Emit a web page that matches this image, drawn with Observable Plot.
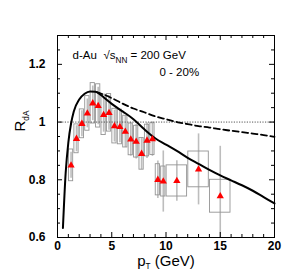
<!DOCTYPE html>
<html><head><meta charset="utf-8">
<script src="https://cdn.jsdelivr.net/npm/d3@7"></script>
<script src="https://cdn.jsdelivr.net/npm/@observablehq/plot@0.6"></script>
<style>html,body{margin:0;padding:0;background:#fff}#chart{width:300px;height:271px}</style>
</head><body><div id="chart"></div>
<script>
// ---- data ----
const pt      = [1.25,1.75,2.25,2.75,3.25,3.75,4.25,4.75,5.25,5.75,6.25,6.75,7.25,7.75,8.25,8.75,9.25,9.75,11,13,15];
const rdA     = [0.85,0.942,0.994,1.03,1.065,1.056,1.025,1.032,0.986,0.983,0.967,0.94,0.932,0.89,0.936,0.941,0.80,0.794,0.796,0.836,0.743];
const binLo   = [1.0,1.5,2.0,2.5,3.0,3.5,4.0,4.5,5.0,5.5,6.0,6.5,7.0,7.5,8.0,8.5,9.0,9.5,10,12,14];
const binHi   = [1.5,2.0,2.5,3.0,3.5,4.0,4.5,5.0,5.5,6.0,6.5,7.0,7.5,8.0,8.5,9.0,9.5,10,12,14,16];
const sysErr  = [0.055,0.05,0.05,0.06,0.07,0.075,0.07,0.065,0.06,0.06,0.055,0.055,0.055,0.055,0.055,0.055,0.054,0.052,0.054,0.062,0.057];
const statErr = [0.045,0.045,0.045,0.05,0.06,0.065,0.06,0.06,0.055,0.055,0.055,0.058,0.06,0.055,0.062,0.06,0.065,0.106,0.07,0.123,0.173];

const solidX = [0.5,0.75,1.0,1.25,1.5,2.0,2.5,3.0,3.5,4.0,4.5,5.0,6.0,7.0,8.0,9.0,10,11,12,13,14,15,16,17,18,19,20];
const solidY = [0.633,0.822,0.93,0.995,1.037,1.078,1.098,1.106,1.105,1.094,1.078,1.063,1.037,1.01,0.975,0.944,0.922,0.9,0.876,0.855,0.834,0.815,0.798,0.781,0.762,0.74,0.718];
const dashX  = [3.6,4,5,6,7,8,9,10,11,12,13,14,15,16,17,18,19,20];
const dashY  = [1.104,1.099,1.083,1.064,1.047,1.034,1.02,1.01,1.0,0.993,0.986,0.981,0.975,0.97,0.965,0.96,0.955,0.949];

const xMajor = [0,5,10,15,20];
const xMinor = [1,2,3,4,6,7,8,9,11,12,13,14,16,17,18,19];
const yMajor = [0.6,0.8,1.0,1.2];
const yMinor = [0.65,0.7,0.75,0.85,0.9,0.95,1.05,1.1,1.15,1.25];
const yTickLabels = ["0.6","0.8","1","1.2"];
const xTickLabels = ["0","5","10","15","20"];

const system = "d-Au";
const energy = "√s_{NN} = 200 GeV";
const centrality = "0 - 20%";
const xTitle = "p_{T} (GeV)";
const yTitle = "R_{dA}";

// ---- layout ----
const W = 300, H = 271, mL = 57, mR = 26, mT = 35, mB = 34;
const fw = W - mL - mR, fh = H - mT - mB;
const font = "'Liberation Sans', Arial, Helvetica, sans-serif";

const pts = pt.map((x, i) => ({x, y: rdA[i], lo: binLo[i], hi: binHi[i], sys: sysErr[i], stat: statErr[i]}));
const solid = solidX.map((x, i) => ({x, y: solidY[i]}));
const dashed = dashX.map((x, i) => ({x, y: dashY[i]}));

const chart = Plot.plot({
  width: W, height: H,
  marginLeft: mL, marginRight: mR, marginTop: mT, marginBottom: mB,
  style: {fontFamily: font, background: "#fff", color: "#000"},
  x: {domain: [0, 20], axis: null},
  y: {domain: [0.6, 1.3], axis: null},
  marks: [
    Plot.ruleX(pts, {x: "x", y1: d => d.y - d.stat, y2: d => d.y + d.stat, stroke: "#bdbdbd", strokeWidth: 1.6, clip: true}),
    Plot.rect(pts, {x1: "lo", x2: "hi", y1: d => d.y - d.sys, y2: d => d.y + d.sys, fill: "none", stroke: "#949494", strokeWidth: 0.9, insetLeft: 0.6, insetRight: 0.6}),
    Plot.ruleY([1], {stroke: "#555", strokeDasharray: "1.2,1.4", strokeWidth: 1}),
    Plot.line(solid, {x: "x", y: "y", stroke: "#000", strokeWidth: 2, curve: "monotone-x"}),
    Plot.line(dashed, {x: "x", y: "y", stroke: "#000", strokeWidth: 1.8, strokeDasharray: "6,3.5", curve: "monotone-x"}),
    Plot.dot(pts, {x: "x", y: "y", symbol: "triangle", fill: "#ff0000", stroke: "none", r: 2.7}),
    Plot.frame({stroke: "#000", strokeWidth: 1}),
    // inward ticks on all four sides
    Plot.tickX(xMajor, {x: d => d, insetTop: fh - 5, stroke: "#000"}),
    Plot.tickX(xMinor, {x: d => d, insetTop: fh - 3, stroke: "#000"}),
    Plot.tickX(xMajor, {x: d => d, insetBottom: fh - 5, stroke: "#000"}),
    Plot.tickX(xMinor, {x: d => d, insetBottom: fh - 3, stroke: "#000"}),
    Plot.tickY(yMajor, {y: d => d, insetRight: fw - 5, stroke: "#000"}),
    Plot.tickY(yMinor, {y: d => d, insetRight: fw - 3, stroke: "#000"}),
    Plot.tickY(yMajor, {y: d => d, insetLeft: fw - 5, stroke: "#000"}),
    Plot.tickY(yMinor, {y: d => d, insetLeft: fw - 3, stroke: "#000"}),
    // tick labels
    Plot.text(xMajor, {x: d => d, frameAnchor: "bottom", dy: 9, text: (d, i) => xTickLabels[i], fontWeight: "bold", fontSize: 12, lineAnchor: "middle"}),
    Plot.text(yMajor, {y: d => d, frameAnchor: "left", dx: -12, text: (d, i) => yTickLabels[i], textAnchor: "end", fontWeight: "bold", fontSize: 12, lineAnchor: "middle"}),
    // titles
    Plot.text([xTitle], {frameAnchor: "bottom", dy: 23.5, text: d => d, fontSize: 15, fontWeight: "normal", lineAnchor: "middle"}),
    Plot.text([yTitle], {frameAnchor: "left", dx: -37, dy: -5, rotate: -90, text: d => d, fontSize: 15, fontWeight: "normal", lineAnchor: "middle"}),
    // annotations
    Plot.text([system], {frameAnchor: "top-left", dx: 15, dy: 20, text: d => d, fontSize: 11.5, fontWeight: "normal", textAnchor: "start", lineAnchor: "middle"}),
    Plot.text([energy], {frameAnchor: "top-left", dx: 46, dy: 20, text: d => d, fontSize: 11.5, fontWeight: "normal", textAnchor: "start", lineAnchor: "middle"}),
    Plot.text([centrality], {frameAnchor: "top-left", dx: 102, dy: 37, text: d => d, fontSize: 11.5, fontWeight: "normal", textAnchor: "start", lineAnchor: "middle"})
  ]
});

// turn "a_{b}c" into real subscripts
chart.querySelectorAll("text").forEach(t => {
  const s = t.textContent;
  if (!s.includes("_{")) return;
  const fs = parseFloat(t.getAttribute("font-size") || getComputedStyle(t).fontSize) || 12;
  const m = s.match(/^(.*?)_\{(.*?)\}(.*)$/);
  if (!m) return;
  while (t.firstChild) t.removeChild(t.firstChild);
  const ns = "http://www.w3.org/2000/svg";
  const a = document.createElementNS(ns, "tspan"); a.textContent = m[1]; t.appendChild(a);
  const b = document.createElementNS(ns, "tspan"); b.textContent = m[2];
  const shift = fs * 0.3;
  b.setAttribute("dy", shift); b.setAttribute("font-size", fs * 0.68); t.appendChild(b);
  if (m[3]) {
    const c = document.createElementNS(ns, "tspan"); c.textContent = m[3];
    c.setAttribute("dy", -shift); t.appendChild(c);
  }
});

document.getElementById("chart").appendChild(chart);
</script>
</body></html>
